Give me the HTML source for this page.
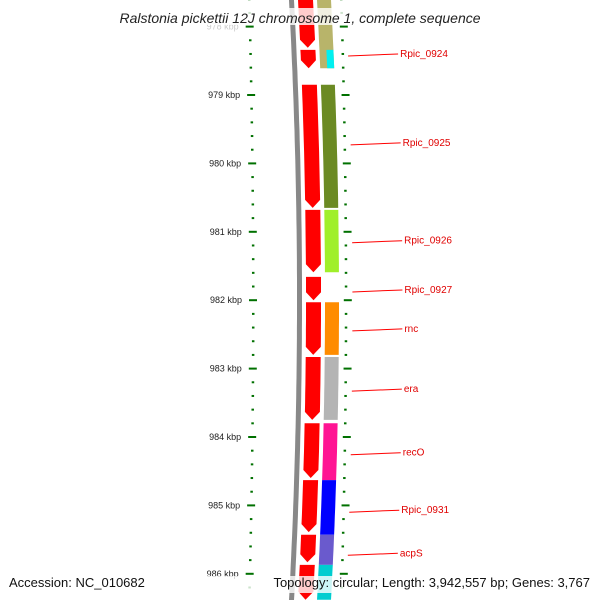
<!DOCTYPE html>
<html><head><meta charset="utf-8"><style>
body{margin:0;background:#fff}
svg{display:block;font-family:"Liberation Sans",sans-serif}
</style></head><body>
<svg id="c" width="600" height="600" viewBox="0 0 600 600"></svg>
<script>
const redGenes=[[977.61,978.31],[978.34,978.61],[978.85,980.65],[980.68,981.59],[981.66,982.00],[982.03,982.80],[982.83,983.75],[983.80,984.60],[984.63,985.39],[985.43,985.83],[985.87,986.38]];
const colorGenes=[[977.61,978.61,'#b8b46a'],[978.34,978.61,'#00f0f0'],[978.85,980.65,'#6b8a23'],[980.68,981.59,'#a0ef2a'],[982.03,982.80,'#ff8c00'],[982.83,983.75,'#b4b4b4'],[983.80,984.63,'#ff1493'],[984.63,985.43,'#0000ff'],[985.43,985.87,'#6a5acd'],[985.87,986.38,'#00cdd0']];
const labels=['Rpic_0924','Rpic_0925','Rpic_0926','Rpic_0927','rnc','era','recO','Rpic_0931','acpS'];
const labelPos=[978.40,979.70,981.13,981.85,982.42,983.30,984.23,985.07,985.70];
const majorTicks=[978,979,980,981,982,983,984,985,986];
const NS='http://www.w3.org/2000/svg';
const svg=document.getElementById('c');
const Y=k=>95+(k-979)*68.4;
const off=y=>8*(1-Math.pow((y-300)/300,2));
function el(t,a){const e=document.createElementNS(NS,t);for(const k in a)e.setAttribute(k,a[k]);svg.appendChild(e);return e;}
function band(k0,k1,x0,w,tip){const y0=Y(k0),y1=Y(k1);const ye=tip?y1-tip:y1;const L=[],R=[];
const n=Math.max(2,Math.ceil((ye-y0)/10));
for(let i=0;i<=n;i++){const y=y0+(ye-y0)*i/n;L.push([x0+off(y),y]);R.push([x0+w+off(y),y]);}
let pts=R.slice();
if(tip)pts.push([x0+w/2+off(y1),y1]);
pts=pts.concat(L.reverse());
return 'M'+pts.map(p=>p[0].toFixed(1)+','+p[1].toFixed(1)).join('L')+'Z';}
let bb=el('path',{d:band(977.5,986.6,289,5,0),fill:'#888'});


redGenes.forEach((g,i)=>{const e=el('path',{d:band(g[0],g[1],298,15,8),fill:'#ff0000'});

});
colorGenes.forEach((g,i)=>{let x=317,w=14;if(i==1){x=324;w=7;}
const e=el('path',{d:band(g[0],g[1],x,w,0),fill:g[2]});

});
for(let k=977.6;k<986.5;k+=0.2){const kk=Math.round(k*5)/5;const y=Y(kk);const major=Math.abs(kk-Math.round(kk))<1e-6;
const xl=249+off(y)*0.5, xr=340+off(y)*0.6;
const t1=el('rect',{x:major?xl-4:xl-1,y:y-1,width:major?8:2.5,height:2,fill:'#007000'});


const t2=el('rect',{x:major?xr-1:xr,y:y-1,width:major?8:2.5,height:2,fill:'#007000'});

}
majorTicks.forEach(k=>{const y=Y(k);const t=el('text',{x:238+off(y)*0.5,y:y+3,'font-size':9,'text-anchor':'end',fill:k==978?'#ccc':'#222'});t.textContent=k+' kbp';

});
labels.forEach((l,i)=>{const y=Y(labelPos[i]);const x0=346+off(y)*0.8;
const ln=el('line',{x1:x0,y1:y+2,x2:x0+50,y2:y,stroke:'#f00','stroke-width':1});


const t=el('text',{x:x0+52,y:y+3,'font-size':10,fill:'#e00000'});t.textContent=l;

});
const bg=el('rect',{x:0,y:8,width:600,height:17,fill:'rgba(255,255,255,0.8)'});


const tt=el('text',{x:300,y:23,'font-size':14,'font-style':'italic','text-anchor':'middle',fill:'#222'});tt.textContent='Ralstonia pickettii 12J chromosome 1, complete sequence';


const fb=el('rect',{x:0,y:576,width:600,height:17,fill:'rgba(255,255,255,0.8)'});


const a=el('text',{x:9,y:587,'font-size':13,fill:'#111'});a.textContent='Accession: NC_010682';


const b=el('text',{x:590,y:587,'font-size':13,'text-anchor':'end',fill:'#111'});b.textContent='Topology: circular; Length: 3,942,557 bp; Genes: 3,767';


</script>
</body></html>
